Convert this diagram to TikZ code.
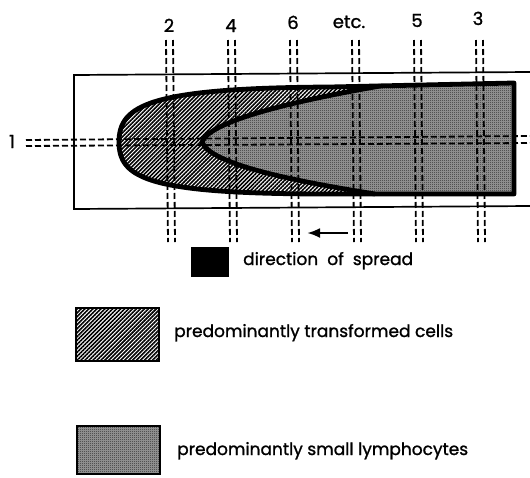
\documentclass[tikz,border=0pt]{standalone}
\usepackage{fontspec}
\setmainfont{Poppins}[FakeBold=1.2]
\usetikzlibrary{patterns.meta,arrows.meta}
\tikzdeclarepattern{name=stipple,type=uncolored,
  bounding box={(0,0) and (2pt,2pt)},tile size={(2pt,2pt)},
  code={\fill (0,0) rectangle (1pt,1pt); \fill (1pt,1pt) rectangle (2pt,2pt);}}
\tikzset{
  hatchfill/.style={pattern={Lines[angle=45,distance=2.8pt,line width=1.6pt]}},
  stipfill/.style={preaction={fill=black!36},pattern=stipple,pattern color=black},
  dashline/.style={line width=1.8pt,dash pattern=on 6pt off 3pt},
  bound/.style={line width=4.8pt,line join=round},
  lbl/.style={inner sep=0pt,anchor=base,font=\fontsize{18}{18}\selectfont},
  legtext/.style={inner sep=0pt,anchor=base west,font=\fontsize{17}{17}\selectfont},
  legbox/.style={line width=2.6pt}
}
\begin{document}
\begin{tikzpicture}[x=1pt,y=-1pt]
\useasboundingbox (0,0) rectangle (530,477);
% slide outline
\draw[line width=1.7pt] (530,72) -- (74,75) -- (74,209) -- (530,206);
% outer (hatched) region
\path[hatchfill] (514,83) -- (330,87) .. controls (150,88) and (119,105) .. (119,142)
   .. controls (119,179) and (150,194) .. (330,194) -- (514,194) -- cycle;
% inner (stippled) region
\path[fill=white] (514,83) -- (380,86) .. controls (300,100) and (210,120) .. (202,142)
   .. controls (210,165) and (300,182) .. (375,194) -- (514,194) -- cycle;
\path[stipfill] (514,83) -- (380,86) .. controls (300,100) and (210,120) .. (202,142)
   .. controls (210,165) and (300,182) .. (375,194) -- (514,194) -- cycle;
\draw[bound] (380,86) .. controls (300,100) and (210,120) .. (202,142)
   .. controls (210,165) and (300,182) .. (375,194);
\draw[bound] (514,83) -- (330,87) .. controls (150,88) and (119,105) .. (119,142)
   .. controls (119,179) and (150,194) .. (330,194) -- (514,194) -- cycle;
% horizontal section lines (1)
\coordinate (h1a) at (26,140); \coordinate (h1b) at (530,136);
\coordinate (h2a) at (26,146); \coordinate (h2b) at (530,143);
\draw[dashline] (h1a) -- (h1b);
\draw[dashline] (h2a) -- (h2b);
\node[lbl] (l1) at (12,148) {1};
% vertical section lines
\foreach \x/\n in {166/a,228/b,290/c,352/d,414/e,476/f}{
  \coordinate (v\n t) at (\x,40); \coordinate (v\n b) at (\x+2,242);
  \coordinate (w\n t) at (\x+7,40); \coordinate (w\n b) at (\x+9,242);
  \draw[dashline] (v\n t) -- (v\n b);
  \draw[dashline] (w\n t) -- (w\n b);
}
\node[lbl] (l2) at (169,32) {2};
\node[lbl] (l4) at (231,32) {4};
\node[lbl] (l6) at (293,29) {6};
\node[lbl] (letc) at (349,28) {etc.};
\node[lbl] (l5) at (417,27) {5};
\node[lbl] (l3) at (478,25) {3};
% arrow
\coordinate (arrS) at (348,233);
\coordinate (arrE) at (307,233);
\draw[line width=2.6pt,-{Latex[length=13pt,width=10pt]}] (arrS) -- (arrE);
% legend
\node[draw,fill=black,legbox,minimum width=36pt,minimum height=28pt,inner sep=0pt] (kblack) at (210,262) {};
\node[legtext] (tdir) at (243,265) {direction\ \ of\ \ spread};
\node[draw,hatchfill,legbox,minimum width=83pt,minimum height=53pt,inner sep=0pt] (khatch) at (117.5,334.5) {};
\node[legtext] (ttrans) at (174,337) {predominantly transformed cells};
\node[draw,stipfill,legbox,minimum width=83pt,minimum height=48pt,inner sep=0pt] (kstip) at (118.5,450) {};
\node[legtext] (tlymph) at (177,455) {predominantly small lymphocytes};
\end{tikzpicture}
\end{document}
